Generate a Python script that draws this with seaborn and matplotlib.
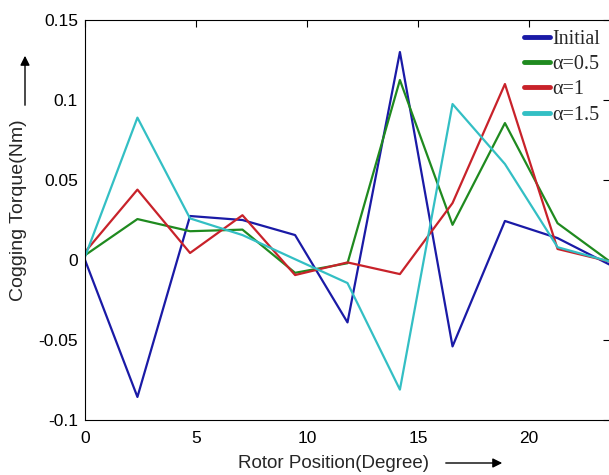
import numpy as np
import pandas as pd
import seaborn as sns
import matplotlib
matplotlib.use("Agg")
import matplotlib.pyplot as plt

# rotor positions (degree), 11 samples over one slot pitch
positions = [0, 2.36, 4.73, 7.09, 9.46, 11.82, 14.18, 16.55, 18.91, 21.28, 23.64]

initial = [0.0, -0.0856, 0.0275, 0.025, 0.0156, -0.039, 0.130, -0.054, 0.0244, 0.0137, -0.003]
alpha_05 = [0.003, 0.0256, 0.018, 0.019, -0.008, -0.002, 0.1125, 0.022, 0.0856, 0.023, -0.001]
alpha_1 = [0.005, 0.044, 0.0044, 0.028, -0.0094, -0.0015, -0.0088, 0.0356, 0.110, 0.0069, -0.001]
alpha_15 = [0.002, 0.089, 0.026, 0.0156, 0.0005, -0.0144, -0.081, 0.0975, 0.060, 0.008, -0.001]

series_names = ["Initial", "\u03b1=0.5", "\u03b1=1", "\u03b1=1.5"]
colors = ["#1a1aa6", "#1f8a1f", "#c8222a", "#33bfc4"]

df = pd.DataFrame({
    "pos": positions * 4,
    "torque": initial + alpha_05 + alpha_1 + alpha_15,
    "case": sum([[n] * len(positions) for n in series_names], []),
})

sns.set_style("white")
plt.rcParams["font.family"] = ["Liberation Sans", "DejaVu Sans"]

fig = plt.figure(figsize=(6.09, 4.75), dpi=100)
ax = fig.add_axes([0.1396, 0.1158, 0.862, 0.842])

sns.lineplot(data=df, x="pos", y="torque", hue="case", hue_order=series_names,
             palette=colors, linewidth=1.6, ax=ax, legend=True)

ax.set_xlim(0, 23.64)
ax.set_ylim(-0.1, 0.15)
ax.set_xticks([0, 5, 10, 15, 20])
ax.set_yticks([-0.1, -0.05, 0, 0.05, 0.1, 0.15])
ax.set_yticklabels(["-0.1", "-0.05", "0", "0.05", "0.1", "0.15"])
ax.tick_params(direction="in", length=5, top=True, right=True, labelsize=12.5,
               width=0.8, colors="black")
ax.tick_params(axis="x", pad=8)
ax.tick_params(axis="y", pad=5)
for s in ax.spines.values():
    s.set_color("black")
    s.set_linewidth(0.8)

ax.set_xlabel("")
ax.set_ylabel("")
fig.text(0.547, 0.025, "Rotor Position(Degree)", fontsize=13.5, ha="center", va="center")
fig.text(0.03, 0.558, "Cogging Torque(Nm)", fontsize=14, rotation=90,
         ha="center", va="center")
# arrows drawn in figure coordinates
ax.annotate("", xy=(505 / 609, 1 - 463 / 475), xytext=(443 / 609, 1 - 463 / 475),
            xycoords="figure fraction",
            arrowprops=dict(arrowstyle="-|>", color="black", lw=1.0, mutation_scale=14))
ax.annotate("", xy=(25 / 609, 1 - 53 / 475), xytext=(25 / 609, 1 - 108 / 475),
            xycoords="figure fraction",
            arrowprops=dict(arrowstyle="-|>", color="black", lw=1.0, mutation_scale=14))

leg = ax.legend(loc="upper right", frameon=False, handlelength=1.3, handletextpad=0.1,
                labelspacing=0.3, borderaxespad=0.1,
                prop={"family": "Liberation Serif", "size": 14.5})
for line in leg.get_lines():
    line.set_linewidth(3.5)

fig.savefig("out.png", dpi=100)
